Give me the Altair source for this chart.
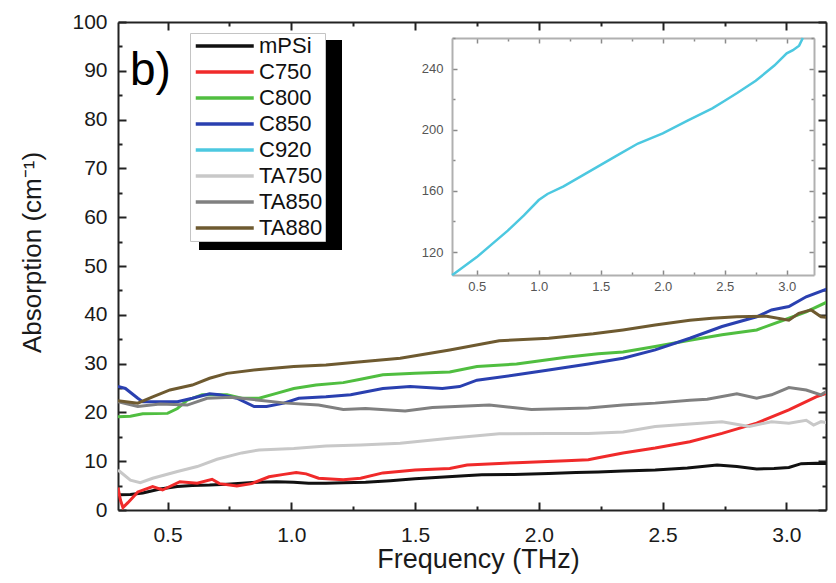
import altair as alt
import pandas as pd

# ---------------- data ----------------
series_names = ["mPSi", "C750", "C800", "C850", "C920", "TA750", "TA850", "TA880"]
series_colors = ["#111111", "#f02a2a", "#50be40", "#2a40b0", "#4cc8e0", "#c8c8c8", "#808080", "#6e5a30"]

mpsi_x = [0.30, 0.35, 0.40, 0.47, 0.54, 0.60, 0.67, 0.74, 0.80, 0.87, 0.94, 1.01, 1.07, 1.14, 1.21, 1.30, 1.40, 1.50,
          1.60, 1.70, 1.77, 1.90, 2.04, 2.15, 2.24, 2.34, 2.47, 2.60, 2.72, 2.80, 2.88, 2.95, 3.01, 3.06, 3.12, 3.18]
mpsi_y = [3.1, 3.2, 3.5, 4.3, 4.8, 5.0, 5.1, 5.3, 5.5, 5.7, 5.8, 5.7, 5.5, 5.5, 5.6, 5.7, 6.0, 6.4,
          6.7, 7.0, 7.2, 7.3, 7.5, 7.7, 7.8, 8.0, 8.2, 8.6, 9.2, 8.9, 8.4, 8.5, 8.7, 9.5, 9.6, 9.5]

c750_x = [0.30, 0.31, 0.32, 0.34, 0.38, 0.44, 0.48, 0.55, 0.62, 0.68, 0.71, 0.78, 0.84, 0.91, 0.97, 1.02, 1.06, 1.11,
          1.21, 1.28, 1.37, 1.50, 1.64, 1.71, 1.91, 2.11, 2.20, 2.24, 2.34, 2.47, 2.61, 2.74, 2.88, 3.01, 3.12, 3.18]
c750_y = [4.6, 2.0, 0.5, 1.5, 3.7, 4.8, 4.1, 5.8, 5.5, 6.3, 5.4, 4.9, 5.4, 6.8, 7.3, 7.7, 7.4, 6.5,
          6.2, 6.5, 7.6, 8.2, 8.5, 9.2, 9.7, 10.1, 10.3, 10.7, 11.7, 12.7, 14.0, 15.7, 17.8, 20.5, 23.2, 24.2]

c800_x = [0.30, 0.35, 0.40, 0.50, 0.54, 0.58, 0.64, 0.74, 0.80, 0.87, 0.94, 1.01, 1.10, 1.21, 1.28, 1.37, 1.50, 1.64,
          1.75, 1.91, 2.11, 2.24, 2.34, 2.47, 2.61, 2.74, 2.88, 3.01, 3.08, 3.18]
c800_y = [19.1, 19.2, 19.7, 19.8, 20.8, 22.5, 23.6, 23.6, 22.9, 22.9, 23.9, 24.9, 25.6, 26.1, 26.8, 27.7, 28.0, 28.3,
          29.4, 29.9, 31.3, 32.0, 32.4, 33.5, 34.8, 35.9, 36.9, 39.3, 40.6, 43.0]

c850_x = [0.30, 0.33, 0.38, 0.40, 0.47, 0.54, 0.60, 0.67, 0.71, 0.78, 0.85, 0.90, 0.97, 1.03, 1.14, 1.24, 1.37, 1.48,
          1.61, 1.68, 1.75, 1.91, 2.04, 2.20, 2.34, 2.47, 2.61, 2.74, 2.88, 2.94, 3.01, 3.08, 3.17]
c850_y = [25.3, 24.9, 22.9, 22.2, 22.2, 22.2, 22.9, 23.8, 23.6, 22.9, 21.2, 21.2, 21.9, 22.9, 23.2, 23.6, 24.9, 25.3,
          24.9, 25.3, 26.6, 27.7, 28.7, 29.9, 31.1, 32.8, 35.2, 37.6, 39.6, 41.0, 41.7, 43.7, 45.4]

ta750_x = [0.30, 0.35, 0.39, 0.44, 0.54, 0.62, 0.70, 0.80, 0.87, 1.01, 1.14, 1.28, 1.44, 1.64, 1.84, 2.04, 2.20, 2.34,
           2.47, 2.61, 2.74, 2.85, 2.94, 3.01, 3.08, 3.11, 3.14, 3.18]
ta750_y = [8.2, 6.1, 5.6, 6.5, 7.9, 8.9, 10.4, 11.7, 12.3, 12.6, 13.1, 13.3, 13.7, 14.7, 15.6, 15.7, 15.7, 16.0,
           17.1, 17.6, 18.1, 17.1, 18.1, 17.8, 18.4, 17.4, 18.1, 17.8]

ta850_x = [0.30, 0.38, 0.47, 0.58, 0.66, 0.76, 0.87, 0.98, 1.11, 1.21, 1.30, 1.46, 1.57, 1.80, 1.97, 2.20, 2.34, 2.47,
           2.61, 2.68, 2.80, 2.88, 2.94, 3.01, 3.08, 3.14, 3.18]
ta850_y = [22.2, 21.2, 21.7, 21.5, 22.9, 23.1, 22.5, 21.9, 21.5, 20.6, 20.8, 20.3, 21.0, 21.5, 20.6, 20.9, 21.5, 21.9,
           22.5, 22.7, 23.8, 22.9, 23.6, 25.1, 24.6, 23.6, 24.9]

ta880_x = [0.30, 0.38, 0.44, 0.51, 0.60, 0.67, 0.74, 0.87, 1.01, 1.14, 1.26, 1.44, 1.64, 1.84, 2.04, 2.22, 2.34, 2.47,
           2.61, 2.70, 2.80, 2.92, 3.01, 3.05, 3.10, 3.14, 3.18]
ta880_y = [22.4, 21.9, 23.2, 24.6, 25.6, 27.0, 28.0, 28.8, 29.4, 29.7, 30.3, 31.1, 32.8, 34.7, 35.2, 36.1, 36.9, 37.9,
           38.9, 39.3, 39.6, 39.7, 38.9, 40.3, 41.0, 39.6, 39.4]

# inset: C920
c920_x = [0.30, 0.32, 0.50, 0.62, 0.75, 0.88, 1.00, 1.07, 1.20, 1.35, 1.50, 1.65, 1.80, 2.00, 2.20, 2.40, 2.50, 2.60,
          2.75, 2.90, 3.00, 3.05, 3.10, 3.13]
c920_y = [105, 106, 116.7, 125, 134, 144, 154, 158, 163, 170, 177, 184, 191, 197.6, 206, 214, 219, 224,
          232, 242, 250, 252, 255, 260]

x_tick_values = [i / 4 for i in range(2, 13)]
y_tick_values = list(range(0, 101, 5))
inset_y_tick_values = list(range(120, 261, 20))

main_series = [("mPSi", mpsi_x, mpsi_y), ("C750", c750_x, c750_y), ("C800", c800_x, c800_y),
               ("C850", c850_x, c850_y), ("TA750", ta750_x, ta750_y), ("TA850", ta850_x, ta850_y),
               ("TA880", ta880_x, ta880_y)]
rows = []
for name, xs, ys in main_series:
    for xv, yv in zip(xs, ys):
        rows.append({"sample": name, "freq": xv, "absorption": yv})
df = pd.DataFrame(rows)
inset_df = pd.DataFrame({"freq": c920_x, "absorption": c920_y})

# ---------------- layout / style ----------------
FONT = "Liberation Sans"
W, H = 708, 488
X_DOM = [0.3, 3.16]
Y_DOM = [0, 100]
IX_DOM, IX_RANGE = [0.3, 3.22], [334, 696]
IY_DOM, IY_RANGE = [105, 260], [253, 16]

x_scale = alt.Scale(domain=X_DOM, nice=False, zero=False)
y_scale = alt.Scale(domain=Y_DOM, nice=False)
ix_scale = alt.Scale(domain=IX_DOM, range=IX_RANGE, nice=False, zero=False)
iy_scale = alt.Scale(domain=IY_DOM, range=IY_RANGE, nice=False, zero=False)

x_major = "(datum.value * 4) % 2 === 0"
y_major = "datum.value % 10 === 0"
iy_major = "datum.value % 40 === 0"

main_axis_style = dict(domainColor="#222222", domainWidth=2, tickColor="#222222", tickWidth=2,
                       labelFont=FONT, labelFontSize=21, labelColor="#1a1a1a", grid=False,
                       titleFont=FONT, titleColor="#1a1a1a", titleFontWeight="normal")

x_axis = alt.Axis(orient="bottom", values=x_tick_values, format=".1f",
                  labelExpr=f"{x_major} ? datum.label : ''",
                  tickSize=alt.ExprRef(f"{x_major} ? -8 : -4"), labelPadding=22,
                  title="Frequency (THz)", titleFontSize=27, titleBaseline="alphabetic",
                  titleY=57, titleX=360,
                  **main_axis_style)
y_axis = alt.Axis(orient="left", values=y_tick_values,
                  labelExpr=f"{y_major} ? datum.label : ''",
                  tickSize=alt.ExprRef(f"{y_major} ? -8 : -4"), labelPadding=19,
                  title="Absorption (cm⁻¹)", titleFontSize=26, titlePadding=26, titleY=230,
                  **main_axis_style)
x_axis_top = alt.Axis(orient="top", values=x_tick_values, labels=False, title=None,
                      tickSize=alt.ExprRef(f"{x_major} ? -8 : -4"), **main_axis_style)
y_axis_right = alt.Axis(orient="right", values=y_tick_values, labels=False, title=None,
                        tickSize=alt.ExprRef(f"{y_major} ? -8 : -4"), **main_axis_style)

inset_axis_style = dict(domainColor="#b0b0b0", domainWidth=2, tickColor="#8a8a8a", tickWidth=1.5,
                        labelFont=FONT, labelFontSize=13, labelColor="#555555", grid=False, title=None)
ix_axis = alt.Axis(orient="bottom", offset=-(H - IY_RANGE[0]), values=x_tick_values, format=".1f",
                   labelExpr=f"{x_major} ? datum.label : ''",
                   tickSize=alt.ExprRef(f"{x_major} ? -5 : -3"), labelPadding=10, **inset_axis_style)
iy_axis = alt.Axis(orient="left", offset=-IX_RANGE[0], values=inset_y_tick_values,
                   labelExpr=f"{iy_major} ? datum.label : ''",
                   tickSize=alt.ExprRef(f"{iy_major} ? -5 : -3"), labelPadding=14, **inset_axis_style)
ix_axis_top = alt.Axis(orient="top", offset=-IY_RANGE[1], values=x_tick_values, labels=False,
                       tickSize=alt.ExprRef(f"{x_major} ? -5 : -3"), **inset_axis_style)
iy_axis_right = alt.Axis(orient="right", offset=-(W - IX_RANGE[1]), values=inset_y_tick_values, labels=False,
                         tickSize=alt.ExprRef(f"{iy_major} ? -5 : -3"), **inset_axis_style)

legend = alt.Legend(orient="none", legendX=72, legendY=11, title=None,
                    symbolType="M-1,0H7", symbolSize=210.25, symbolStrokeWidth=3.5,
                    labelFont=FONT, labelFontSize=22, labelColor="#111111", labelOffset=45,
                    fillColor="white", strokeColor="#c4c4c4", padding=2, rowPadding=4,
                    symbolLimit=0)

one_row = pd.DataFrame({"k": [0]})

shadow = alt.Chart(one_row).mark_rect(color="black").encode(
    x=alt.value(81), x2=alt.value(224), y=alt.value(18), y2=alt.value(228)
)

lines = alt.Chart(df).mark_line(strokeWidth=3, clip=True).encode(
    x=alt.X("freq:Q", scale=x_scale, axis=x_axis),
    y=alt.Y("absorption:Q", scale=y_scale, axis=y_axis),
    color=alt.Color("sample:N", scale=alt.Scale(domain=series_names, range=series_colors), legend=legend),
)

mirror = alt.Chart(df).mark_point(opacity=0).encode(
    x=alt.X("freq:Q", scale=x_scale, axis=x_axis_top),
    y=alt.Y("absorption:Q", scale=y_scale, axis=y_axis_right),
)

inset_line = alt.Chart(inset_df).mark_line(strokeWidth=2.5, color=series_colors[4], clip=False).encode(
    x=alt.X("freq:Q", scale=ix_scale, axis=ix_axis),
    y=alt.Y("absorption:Q", scale=iy_scale, axis=iy_axis),
)

inset_mirror = alt.Chart(inset_df).mark_point(opacity=0).encode(
    x=alt.X("freq:Q", scale=ix_scale, axis=ix_axis_top),
    y=alt.Y("absorption:Q", scale=iy_scale, axis=iy_axis_right),
)

panel_label = alt.Chart(one_row).mark_text(
    text="b)", font=FONT, fontSize=46, align="left", baseline="alphabetic", color="black"
).encode(x=alt.value(12), y=alt.value(63))

chart = alt.layer(
    shadow, lines, mirror, inset_line, inset_mirror, panel_label
).resolve_scale(
    x="independent", y="independent"
).resolve_axis(
    x="independent", y="independent"
).properties(
    width=W, height=H,
    autosize=alt.AutoSizeParams(type="none"),
    padding={"left": 110, "top": 14, "right": 2, "bottom": 64},
    background="white",
).configure_view(stroke=None)

chart.save("out.html", embed_options={"renderer": "svg", "actions": False})
